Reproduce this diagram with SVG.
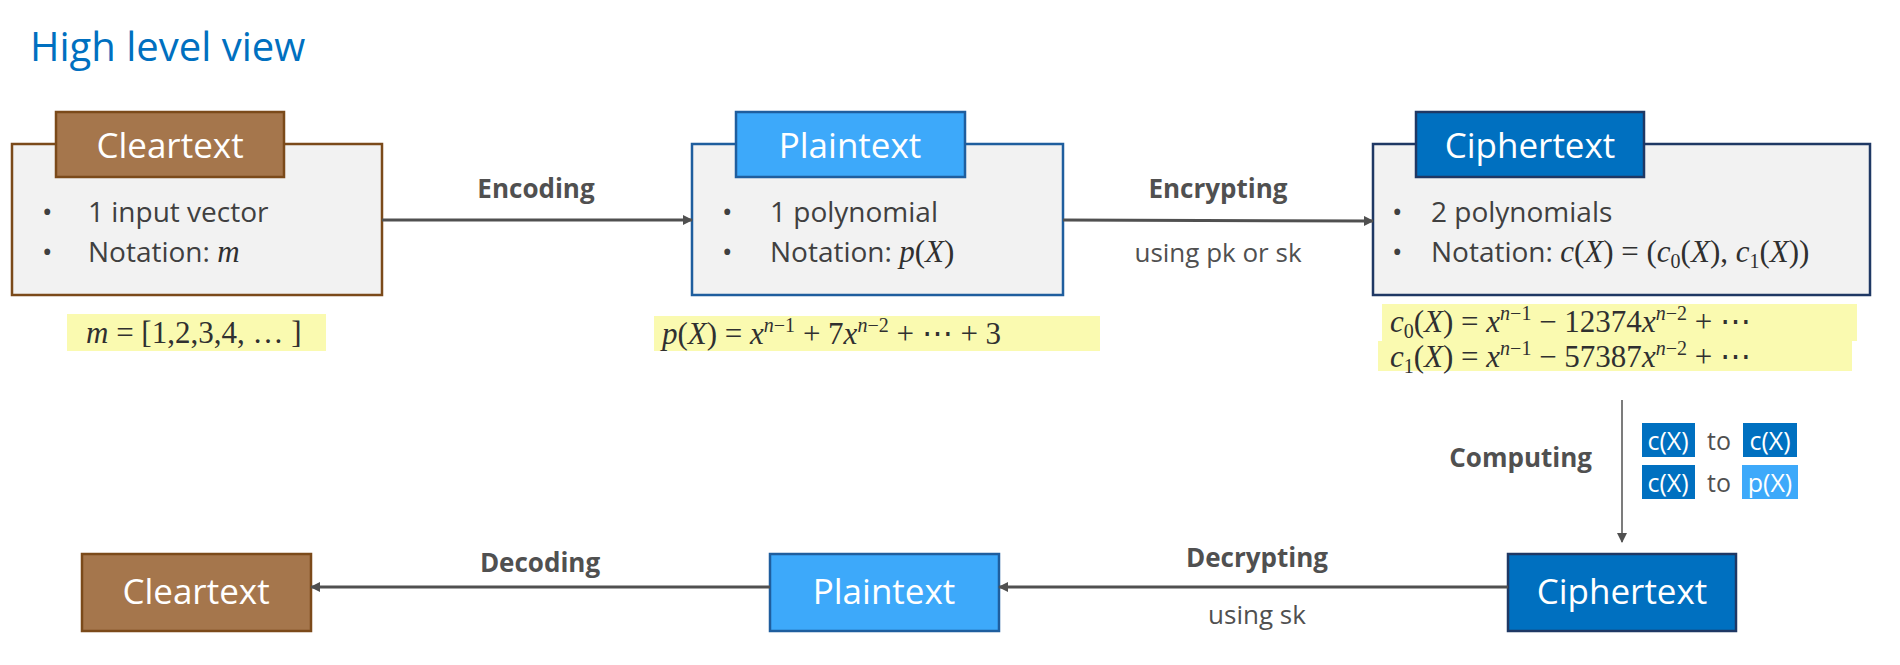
<svg xmlns="http://www.w3.org/2000/svg" width="1900" height="665" viewBox="0 0 1900 665">
<style>
.t{font-family:"Open Sans","Noto Sans",sans-serif}
.hd{font-family:"Open Sans","Noto Sans",sans-serif;font-size:35px;fill:#fff;text-anchor:middle}
.bl{font-family:"Open Sans","Noto Sans",sans-serif;font-size:28px;fill:#404040}
.lb{font-family:"Open Sans","Noto Sans",sans-serif;font-size:26px;fill:#505050;text-anchor:middle}
.b{font-weight:bold}
.m{font-family:"Liberation Serif",serif;font-size:31px;fill:#303030}
.i{font-style:italic}
.hl{fill:#FAFAB0}
.ct{fill:#A5764C;stroke:#7B4A1A;stroke-width:2.5}
.pt{fill:#3DA9FA;stroke:#1F5E9E;stroke-width:2.5}
.cp{fill:#0070C0;stroke:#1F3864;stroke-width:2.5}
.body{fill:#F2F2F2;stroke-width:2.5}
.ln{stroke:#505050;stroke-width:3;fill:none}
</style>
<defs>
<marker id="ar" markerWidth="10" markerHeight="10" refX="9" refY="5" orient="auto" markerUnits="userSpaceOnUse"><path d="M0,0 L10,5 L0,10 Z" fill="#505050"/></marker>
</defs>
<text x="30" y="61" class="t" font-size="40" fill="#0070C0">High level view</text>

<g id="cleartext1">
<rect x="12" y="144" width="370" height="151" class="body" stroke="#7B4A1A"/>
<rect x="56" y="112" width="228" height="65" class="ct"/>
<text x="170" y="158" class="hd">Cleartext</text>
<text x="42" y="222" class="bl">•</text><text x="88" y="222" class="bl">1 input vector</text>
<text x="42" y="262" class="bl">•</text><text x="88" y="262" class="bl">Notation: <tspan class="m i">m</tspan></text>
<rect x="67" y="314" width="259" height="37" class="hl"/>
<text x="86" y="343" class="m"><tspan class="i">m</tspan> = [1,2,3,4, … ]</text>
</g>

<g id="plaintext1">
<rect x="692" y="144" width="371" height="151" class="body" stroke="#1F5E9E"/>
<rect x="736" y="112" width="229" height="65" class="pt"/>
<text x="850" y="158" class="hd">Plaintext</text>
<text x="722" y="222" class="bl">•</text><text x="770" y="222" class="bl">1 polynomial</text>
<text x="722" y="262" class="bl">•</text><text x="770" y="262" class="bl">Notation: <tspan class="m"><tspan class="i">p</tspan>(<tspan class="i">X</tspan>)</tspan></text>
<rect x="654" y="316" width="446" height="35" class="hl"/>
<text x="662" y="344" class="m"><tspan class="i">p</tspan>(<tspan class="i">X</tspan>) = <tspan class="i">x</tspan><tspan font-size="20" dy="-12" class="i">n</tspan><tspan font-size="20">−1</tspan><tspan dy="12"> + 7</tspan><tspan class="i">x</tspan><tspan font-size="20" dy="-12" class="i">n</tspan><tspan font-size="20">−2</tspan><tspan dy="12"> + ⋯ + 3</tspan></text>
</g>

<g id="ciphertext1">
<rect x="1373" y="144" width="497" height="151" class="body" stroke="#1F3864"/>
<rect x="1416" y="112" width="228" height="65" class="cp"/>
<text x="1530" y="158" class="hd">Ciphertext</text>
<text x="1392" y="222" class="bl">•</text><text x="1431" y="222" class="bl">2 polynomials</text>
<text x="1392" y="262" class="bl">•</text><text x="1431" y="262" class="bl">Notation: <tspan class="m"><tspan class="i">c</tspan>(<tspan class="i">X</tspan>) = (<tspan class="i">c</tspan><tspan font-size="20" dy="6">0</tspan><tspan dy="-6">(</tspan><tspan class="i">X</tspan>), <tspan class="i">c</tspan><tspan font-size="20" dy="6">1</tspan><tspan dy="-6">(</tspan><tspan class="i">X</tspan>))</tspan></text>
<rect x="1382" y="304" width="475" height="37" class="hl"/>
<rect x="1378" y="341" width="474" height="30" class="hl"/>
<text x="1390" y="332" class="m"><tspan class="i">c</tspan><tspan font-size="20" dy="6">0</tspan><tspan dy="-6">(</tspan><tspan class="i">X</tspan>) = <tspan class="i">x</tspan><tspan font-size="20" dy="-12" class="i">n</tspan><tspan font-size="20">−1</tspan><tspan dy="12"> − 12374</tspan><tspan class="i">x</tspan><tspan font-size="20" dy="-12" class="i">n</tspan><tspan font-size="20">−2</tspan><tspan dy="12"> + ⋯</tspan></text>
<text x="1390" y="367" class="m"><tspan class="i">c</tspan><tspan font-size="20" dy="6">1</tspan><tspan dy="-6">(</tspan><tspan class="i">X</tspan>) = <tspan class="i">x</tspan><tspan font-size="20" dy="-12" class="i">n</tspan><tspan font-size="20">−1</tspan><tspan dy="12"> − 57387</tspan><tspan class="i">x</tspan><tspan font-size="20" dy="-12" class="i">n</tspan><tspan font-size="20">−2</tspan><tspan dy="12"> + ⋯</tspan></text>
</g>

<g id="cleartext2">
<rect x="82" y="554" width="229" height="77" class="ct"/>
<text x="196" y="604" class="hd">Cleartext</text>
</g>
<g id="plaintext2">
<rect x="770" y="554" width="229" height="77" class="pt"/>
<text x="884" y="604" class="hd">Plaintext</text>
</g>
<g id="ciphertext2">
<rect x="1508" y="554" width="228" height="77" class="cp"/>
<text x="1622" y="604" class="hd">Ciphertext</text>
</g>

<g id="chips">
<rect x="1642" y="423" width="53" height="34" fill="#0070C0"/>
<text x="1668" y="450" class="t" font-size="25" fill="#fff" text-anchor="middle">c(X)</text>
<text x="1719" y="450" class="t" font-size="25" fill="#505050" text-anchor="middle">to</text>
<rect x="1743" y="423" width="54" height="34" fill="#0070C0"/>
<text x="1770" y="450" class="t" font-size="25" fill="#fff" text-anchor="middle">c(X)</text>
<rect x="1642" y="465" width="53" height="34" fill="#0070C0"/>
<text x="1668" y="492" class="t" font-size="25" fill="#fff" text-anchor="middle">c(X)</text>
<text x="1719" y="492" class="t" font-size="25" fill="#505050" text-anchor="middle">to</text>
<rect x="1742" y="465" width="56" height="34" fill="#3DA9FA"/>
<text x="1770" y="492" class="t" font-size="25" fill="#fff" text-anchor="middle">p(X)</text>
</g>

<g id="connectors">
<line x1="382" y1="220" x2="692" y2="220" class="ln" marker-end="url(#ar)"/>
<text x="536" y="198" class="lb b">Encoding</text>
<line x1="1063" y1="220" x2="1373" y2="221" class="ln" marker-end="url(#ar)"/>
<text x="1218" y="198" class="lb b">Encrypting</text>
<text x="1218" y="262" class="lb">using pk or sk</text>
<line x1="1622" y1="400" x2="1622" y2="542" stroke="#505050" stroke-width="1.5" marker-end="url(#ar)"/>
<text x="1592" y="467" class="lb b" style="text-anchor:end">Computing</text>
<line x1="1508" y1="587" x2="999" y2="587" class="ln" marker-end="url(#ar)"/>
<text x="1257" y="567" class="lb b">Decrypting</text>
<text x="1257" y="624" class="lb">using sk</text>
<line x1="770" y1="587" x2="311" y2="587" class="ln" marker-end="url(#ar)"/>
<text x="540" y="572" class="lb b">Decoding</text>
</g>
</svg>
